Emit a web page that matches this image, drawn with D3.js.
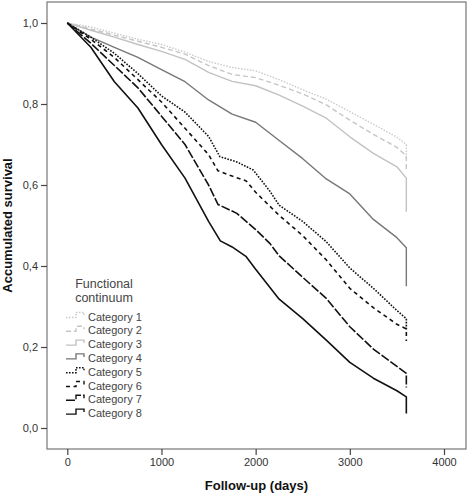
<!DOCTYPE html>
<html>
<head>
<meta charset="utf-8">
<script src="https://cdn.jsdelivr.net/npm/d3@7"></script>
<style>
  body { margin: 0; background: #fff; }
  svg { font-family: "Liberation Sans", Arial, sans-serif; }
</style>
</head>
<body>
<svg id="chart" width="467" height="496"></svg>
<script>
// survival estimates, [day, survival]
var cat1 = [[0,1],[250,0.99],[500,0.975],[750,0.96],[1000,0.947],[1250,0.928],[1500,0.905],[1750,0.89],[2000,0.882],[2250,0.86],[2500,0.835],[2750,0.812],[3000,0.781],[3250,0.75],[3500,0.718],[3600,0.70],[3600,0.665]];
var cat2 = [[0,1],[250,0.985],[500,0.97],[750,0.955],[1000,0.94],[1250,0.923],[1500,0.895],[1750,0.873],[2000,0.865],[2250,0.846],[2500,0.825],[2750,0.798],[3000,0.76],[3250,0.725],[3500,0.693],[3600,0.672],[3600,0.635]];
var cat3 = [[0,1],[250,0.982],[500,0.965],[750,0.947],[1000,0.93],[1250,0.91],[1500,0.878],[1750,0.856],[2000,0.845],[2250,0.822],[2500,0.795],[2750,0.765],[3000,0.719],[3250,0.678],[3500,0.645],[3600,0.617],[3600,0.534]];
var cat4 = [[0,1],[250,0.965],[500,0.94],[750,0.915],[1000,0.885],[1250,0.855],[1500,0.81],[1750,0.775],[2000,0.755],[2250,0.71],[2500,0.665],[2750,0.615],[3000,0.578],[3250,0.515],[3500,0.47],[3600,0.445],[3600,0.35]];
var cat5 = [[0,1],[250,0.965],[500,0.925],[750,0.875],[1000,0.82],[1250,0.78],[1500,0.72],[1620,0.67],[1800,0.657],[1975,0.637],[2150,0.585],[2250,0.55],[2500,0.51],[2750,0.46],[3000,0.395],[3250,0.345],[3500,0.29],[3600,0.27],[3600,0.24]];
var cat6 = [[0,1],[250,0.96],[500,0.915],[750,0.86],[1000,0.805],[1250,0.74],[1500,0.675],[1600,0.635],[1750,0.622],[1900,0.61],[2000,0.582],[2250,0.525],[2500,0.475],[2750,0.415],[3000,0.345],[3250,0.297],[3500,0.256],[3600,0.245],[3600,0.215]];
var cat7 = [[0,1],[250,0.95],[500,0.895],[750,0.84],[1000,0.77],[1250,0.7],[1500,0.6],[1600,0.552],[1800,0.53],[2000,0.49],[2150,0.456],[2250,0.425],[2500,0.372],[2750,0.32],[3000,0.25],[3250,0.195],[3500,0.152],[3600,0.135],[3600,0.10]];
var cat8 = [[0,1],[250,0.94],[500,0.855],[750,0.79],[1000,0.70],[1250,0.617],[1500,0.51],[1625,0.462],[1750,0.447],[1900,0.423],[2000,0.392],[2250,0.318],[2500,0.27],[2750,0.217],[3000,0.162],[3250,0.123],[3500,0.092],[3600,0.077],[3600,0.036]];

var categories = ["Category 1","Category 2","Category 3","Category 4","Category 5","Category 6","Category 7","Category 8"];
var series = [cat1, cat2, cat3, cat4, cat5, cat6, cat7, cat8];
var xTicks = [0, 1000, 2000, 3000, 4000];
var yTicks = [0, 0.2, 0.4, 0.6, 0.8, 1.0];

// line look per category
var colors = ["#cacaca","#c6c6c6","#c2c2c2","#777","#111","#111","#111","#111"];
var dashes = ["1.5,1.5","5,3",null,null,"1.6,1.4","4,3.5","9,2",null];

var svg = d3.select("#chart");
var frame = {left: 47, right: 466, top: 2, bottom: 449};

var x = d3.scaleLinear().domain([0, 4000]).range([67.3, 444]);
var y = d3.scaleLinear().domain([0, 1]).range([428, 23]);

var comma = d3.formatLocale({decimal: ",", thousands: ".", grouping: [3], currency: ["", ""]});

svg.append("rect")
  .attr("x", frame.left).attr("y", frame.top)
  .attr("width", frame.right - frame.left).attr("height", frame.bottom - frame.top)
  .attr("fill", "none").attr("stroke", "#808080").attr("stroke-width", 1.3);

var xAxis = svg.append("g")
  .attr("transform", "translate(0," + frame.bottom + ")")
  .call(d3.axisBottom(x).tickValues(xTicks).tickFormat(d3.format("d")).tickSize(6).tickPadding(3));
var yAxis = svg.append("g")
  .attr("transform", "translate(" + frame.left + ",0)")
  .call(d3.axisLeft(y).tickValues(yTicks).tickFormat(comma.format(".1f")).tickSize(6).tickPadding(3));

[xAxis, yAxis].forEach(function(g){
  g.select(".domain").remove();
  g.selectAll("line").attr("stroke", "#444").attr("stroke-width", 1.2);
  g.selectAll("text").attr("fill", "#333").style("font-size", "11px").style("font-family", "Liberation Sans, Arial, sans-serif");
});

var line = d3.line()
  .x(function(d){ return x(d[0]); })
  .y(function(d){ return y(d[1]); });

svg.append("g").selectAll("path")
  .data(series)
  .enter()
  .append("path")
    .attr("d", line)
    .attr("fill", "none")
    .attr("stroke", function(d, i){ return colors[i]; })
    .attr("stroke-width", function(d, i){ return i < 4 ? 1.4 : 1.6; })
    .attr("stroke-dasharray", function(d, i){ return dashes[i]; })
    .attr("stroke-linejoin", "round");

// axis titles
svg.append("text")
  .attr("x", (frame.left + frame.right) / 2).attr("y", 490)
  .attr("text-anchor", "middle")
  .style("font-size", "13px").style("font-weight", "bold").attr("fill", "#111")
  .text("Follow-up (days)");
svg.append("text")
  .attr("transform", "translate(12," + ((frame.top + frame.bottom) / 2) + ") rotate(-90)")
  .attr("text-anchor", "middle")
  .style("font-size", "13px").style("font-weight", "bold").attr("fill", "#111")
  .text("Accumulated survival");

// legend
var legend = svg.append("g");
legend.append("text")
  .attr("x", 104).attr("y", 288)
  .attr("text-anchor", "middle")
  .style("font-size", "12.5px").attr("fill", "#444")
  .text("Functional");
legend.append("text")
  .attr("x", 104).attr("y", 301.5)
  .attr("text-anchor", "middle")
  .style("font-size", "12.5px").attr("fill", "#444")
  .text("continuum");

var items = legend.selectAll("g.item")
  .data(categories)
  .enter()
  .append("g")
    .attr("class", "item")
    .attr("transform", function(d, i){ return "translate(0," + (320.5 + i * 13.8) + ")"; });

items.append("path")
  .attr("d", "M66,-3H76V-8H84V-5")
  .attr("fill", "none")
  .attr("stroke", function(d, i){ return colors[i]; })
  .attr("stroke-width", 1.4)
  .attr("stroke-dasharray", function(d, i){ return dashes[i]; });

items.append("text")
  .attr("x", 88).attr("y", 0)
  .style("font-size", "11px").attr("fill", "#444")
  .text(function(d){ return d; });
</script>
</body>
</html>
